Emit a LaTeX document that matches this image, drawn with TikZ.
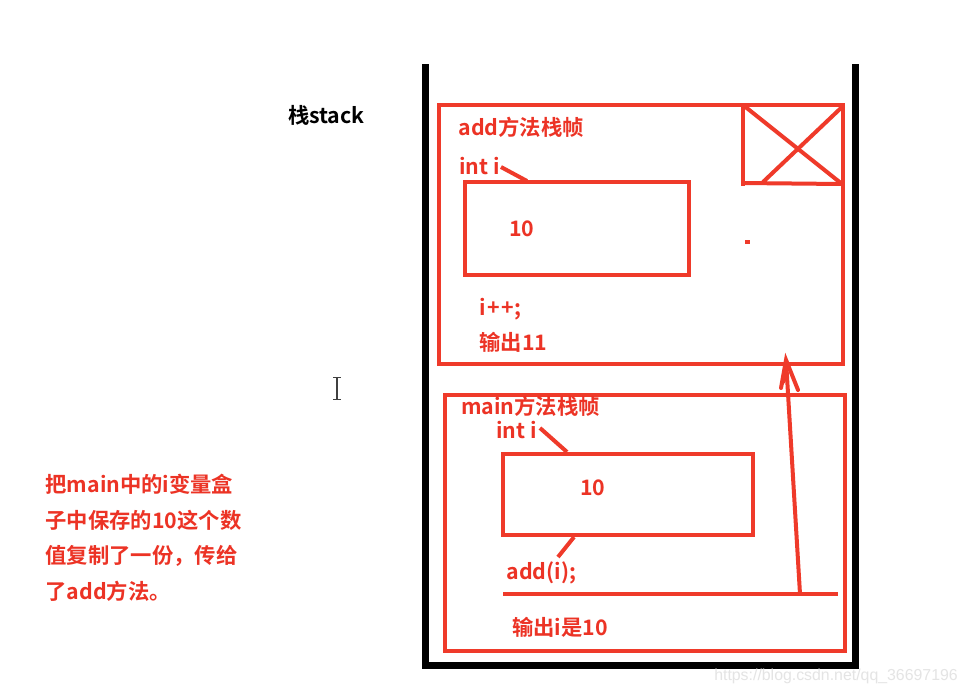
\documentclass[tikz,border=0pt]{standalone}
\usepackage{fontspec}
\setmainfont{Noto Sans CJK SC}[BoldFont={Noto Sans CJK SC Bold}]
\newfontfamily\wmfont{Liberation Sans}
\definecolor{redline}{HTML}{EF3A2A}
\definecolor{redtext}{HTML}{EC3325}
\definecolor{wm}{HTML}{E4E4E4}
\tikzset{
  redbox/.style={draw=redline,line width=3pt,rectangle,inner sep=0pt,outer sep=0pt},
  redstroke/.style={draw=redline,line width=3pt},
  wall/.style={draw=black,line width=5.25pt},
  lab/.style={anchor=base west,inner sep=0pt,outer sep=0pt,text=redtext,font=\bfseries\fontsize{16pt}{18pt}\selectfont},
  blab/.style={lab,text=black},
}
\begin{document}
\begin{tikzpicture}[x=0.75pt,y=-0.75pt]
\useasboundingbox[fill=white] (0,0) rectangle (966,694);
% stack walls
\coordinate (wallTL) at (425.5,64);
\coordinate (wallBL) at (425.5,665.5);
\coordinate (wallBR) at (855,665.5);
\coordinate (wallTR) at (855,64);
\draw[wall,line join=miter] (wallTL) -- (wallBL) -- (wallBR) -- (wallTR);
% add frame
\node[redbox,minimum width=303pt,minimum height=194.25pt] (addframe) at (640.5,234) {};
\node[redbox,minimum width=168pt,minimum height=69.75pt] (addbox) at (577,228.5) {};
\coordinate (xTL) at (743,103);
\coordinate (xBL) at (743,186);
\coordinate (xB) at (743,183);
\coordinate (xD) at (743,105);
\coordinate (xBR) at (842,184);
\coordinate (xTR) at (842,107);
\coordinate (xBI) at (763,182);
\draw[redstroke] (xTL) -- (xBL);
\draw[redstroke] (xB) -- (xBR);
\draw[redstroke] (xD) -- (xBR);
\draw[redstroke] (xTR) -- (xBI);
\node[fill=redline,minimum width=3.75pt,minimum height=3pt,inner sep=0pt] (dot) at (747,242) {};
% main frame
\node[redbox,minimum width=300pt,minimum height=192pt] (mainframe) at (645,523) {};
\node[redbox,minimum width=187.5pt,minimum height=60.75pt] (mainbox) at (628,494.5) {};
\coordinate (lineL) at (503,594);
\coordinate (lineR) at (838,594);
\draw[redstroke] (lineL) -- (lineR);
% arrow
\coordinate (arrBase) at (800,594);
\coordinate (arrTip) at (786,360);
\coordinate (barbL) at (781,388);
\coordinate (barbR) at (798,390);
\draw[redstroke] (arrBase) -- (arrTip);
\fill[redline] (arrTip) -- (barbL) -- (786,381) -- (arrTip);
\draw[redstroke,line cap=round] (barbL) -- (arrTip) -- (barbR);
% texts
\node[lab] (t1) at (458.5,135) {add方法栈帧};
\node[lab] (t2) at (459.5,174) {int i};
\node[lab] (t3) at (509,236) {10};
\node[lab] (t4) at (479.5,315) {i\kern1pt+\kern1pt+\kern0.5pt;};
\node[lab] (t5) at (479.5,350) {输出11};
\node[lab] (t6) at (461,414) {main方法栈帧};
\node[lab] (t7) at (496.5,438) {int i};
\node[lab] (t8) at (580,495) {10};
\node[lab] (t9) at (506.5,579) {add(i);};
\node[lab] (t10) at (512,635) {输出i是10};
\node[blab] (t11) at (288,123) {栈stack};
\node[lab] (n1) at (45.5,492) {把main中的i变量盒};
\node[lab] (n2) at (45.5,528) {子中保存的10这个数};
\node[lab] (n3) at (45.5,563) {值复制了一份，传给};
\node[lab] (n4) at (45.5,599) {了add方法。};
% leaders
\coordinate (lead1a) at (501,167);
\coordinate (lead1b) at (527,181);
\coordinate (lead2a) at (540,428);
\coordinate (lead2b) at (567,452);
\coordinate (lead3a) at (574,537);
\coordinate (lead3b) at (558,557);
\draw[redstroke] (lead1a) -- (lead1b);
\draw[redstroke] (lead2a) -- (lead2b);
\draw[redstroke] (lead3a) -- (lead3b);
% text cursor
\coordinate (curT) at (337,377);
\coordinate (curB) at (337,399);
\draw[black!75,line width=0.9pt] (curT) -- (curB);
\draw[black!75,line width=0.75pt] (333,377) -- (341,377) (333,399) -- (341,399);
% watermark
\node[anchor=base west,inner sep=0pt,text=wm,font=\wmfont\fontsize{11.9pt}{14pt}\selectfont] (wmk) at (714,680) {https://blog.csdn.net/qq\_36697196};
\end{tikzpicture}
\end{document}
